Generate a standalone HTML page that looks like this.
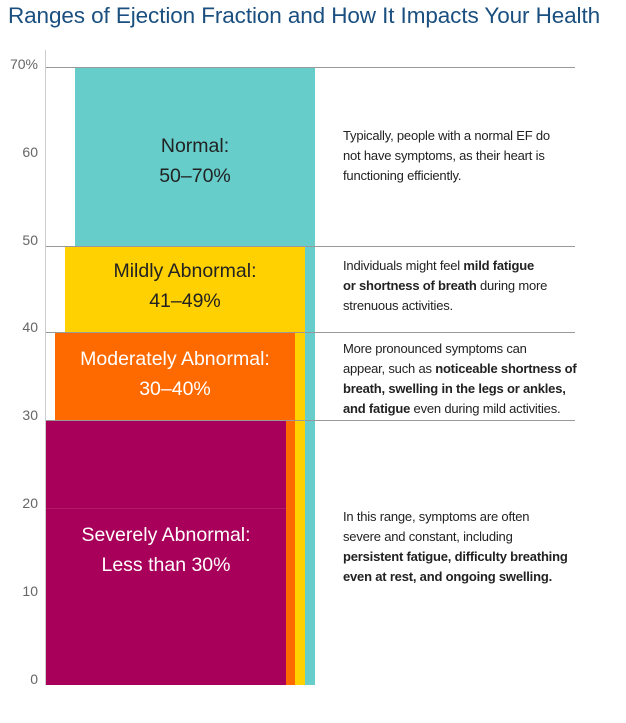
<!DOCTYPE html>
<html><head><style>
body{margin:0;width:626px;height:723px;background:#fff;font-family:"Liberation Sans",sans-serif;position:relative;overflow:hidden}
div{position:absolute}
.t{left:8px;top:3px;font-size:22.5px;color:#1a4f7f;white-space:nowrap;letter-spacing:-0.1px}
.y{left:0;width:38px;text-align:right;font-size:14px;color:#666}
.g{left:46px;width:529px;height:1px;background:#999}
.lab{text-align:center;font-size:19.5px;line-height:30px;color:#222}
.d{left:343px;font-size:13px;line-height:20px;color:#222;white-space:nowrap;letter-spacing:-0.2px}
b{font-weight:bold}
</style></head><body>
<div class="t">Ranges of Ejection Fraction and How It Impacts Your Health</div>
<div style="left:45px;top:50px;width:1px;height:635px;background:#ccc"></div>
<div style="left:75px;top:67px;width:240px;height:618px;background:#66cdca"></div>
<div style="left:65px;top:246px;width:240px;height:439px;background:#ffd100"></div>
<div style="left:55px;top:332px;width:240px;height:353px;background:#ff6a00"></div>
<div style="left:46px;top:420px;width:240px;height:265px;background:#a8005a"></div>
<div style="left:46px;top:508px;width:240px;height:1px;background:#b01c62"></div>
<div class="g" style="top:67px"></div>
<div class="g" style="top:246px"></div>
<div class="g" style="top:332px"></div>
<div class="g" style="top:420px"></div>
<div class="y" style="top:56px">70%</div>
<div class="y" style="top:144px">60</div>
<div class="y" style="top:232px">50</div>
<div class="y" style="top:319px">40</div>
<div class="y" style="top:407px">30</div>
<div class="y" style="top:495px">20</div>
<div class="y" style="top:583px">10</div>
<div class="y" style="top:671px">0</div>
<div class="lab" style="left:75px;width:240px;top:131px">Normal:<br>50–70%</div>
<div class="lab" style="left:65px;width:240px;top:256px">Mildly Abnormal:<br>41–49%</div>
<div class="lab" style="left:55px;width:240px;top:344px;color:#fff">Moderately Abnormal:<br>30–40%</div>
<div class="lab" style="left:46px;width:240px;top:520px;color:#fff">Severely Abnormal:<br>Less than 30%</div>
<div class="d" style="top:126px">Typically, people with a normal EF do<br>not have symptoms, as their heart is<br>functioning efficiently.</div>
<div class="d" style="top:256px">Individuals might feel <b>mild fatigue</b><br><b>or shortness of breath</b> during more<br>strenuous activities.</div>
<div class="d" style="top:339px">More pronounced symptoms can<br>appear, such as <b>noticeable shortness of</b><br><b>breath, swelling in the legs or ankles,</b><br><b>and fatigue</b> even during mild activities.</div>
<div class="d" style="top:507px">In this range, symptoms are often<br>severe and constant, including<br><b>persistent fatigue, difficulty breathing</b><br><b>even at rest, and ongoing swelling.</b></div>
</body></html>
